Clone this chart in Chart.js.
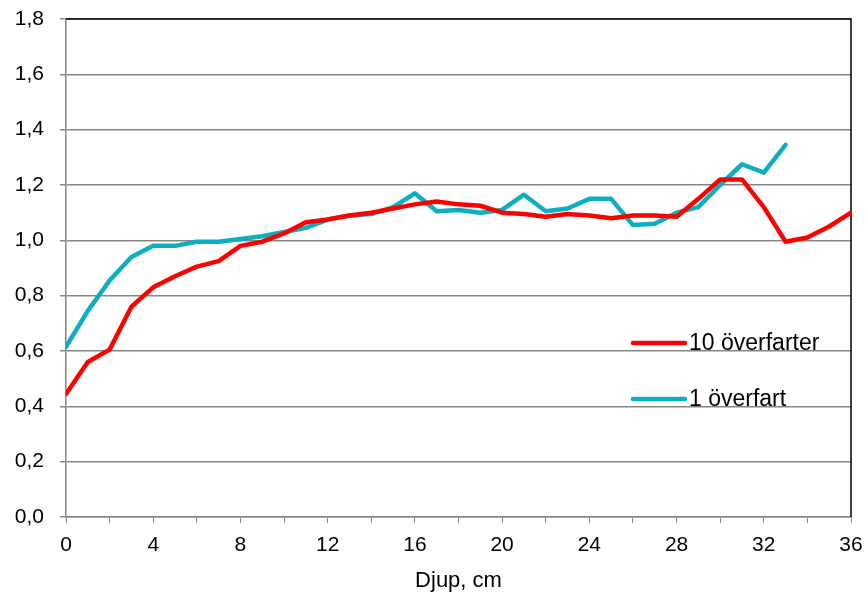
<!DOCTYPE html>
<html>
<head>
<meta charset="utf-8">
<script src="https://cdn.jsdelivr.net/npm/chart.js@4"></script>
<style>
  html, body { margin: 0; padding: 0; background: #fff; }
  #wrap { width: 868px; height: 601px; }
</style>
</head>
<body>
<div id="wrap"><canvas id="chart" width="868" height="601"></canvas></div>
<script>
// depth in cm
const djup = [0, 1, 2, 3, 4, 5, 6, 7, 8, 9, 10, 11, 12, 13, 14, 15, 16, 17, 18,
  19, 20, 21, 22, 23, 24, 25, 26, 27, 28, 29, 30, 31, 32, 33, 34, 35, 36];

const tioOverfarter = [0.445, 0.56, 0.605, 0.76, 0.83, 0.87, 0.905, 0.925, 0.98, 0.995,
  1.025, 1.065, 1.075, 1.09, 1.10, 1.115, 1.13, 1.14, 1.13, 1.125, 1.10, 1.095, 1.085,
  1.095, 1.09, 1.08, 1.09, 1.09, 1.085, 1.15, 1.22, 1.22, 1.12, 0.995, 1.01, 1.05, 1.10];

const enOverfart = [0.615, 0.745, 0.855, 0.94, 0.98, 0.98, 0.995, 0.995, 1.005, 1.015,
  1.03, 1.045, 1.075, 1.09, 1.095, 1.12, 1.17, 1.105, 1.11, 1.10, 1.11, 1.165, 1.105,
  1.115, 1.15, 1.15, 1.055, 1.06, 1.10, 1.12, 1.20, 1.275, 1.245, 1.345];

const seriesNames = ['10 överfarter', '1 överfart'];
const seriesColors = ['#ff0000', '#0eadc0'];

const FONT = '"Liberation Sans", Arial, sans-serif';
const toPoints = vals => vals.map((v, i) => ({ x: djup[i], y: v }));

// legend drawn inside the plot, right of centre
const insideLegend = {
  id: 'insideLegend',
  afterDatasetsDraw(chart) {
    const ctx = chart.ctx;
    const rows = [343, 399];
    ctx.save();
    chart.data.datasets.forEach((ds, i) => {
      const y = rows[i];
      ctx.strokeStyle = ds.borderColor;
      ctx.lineWidth = 4.5;
      ctx.lineCap = 'round';
      ctx.beginPath();
      ctx.moveTo(633, y);
      ctx.lineTo(685, y);
      ctx.stroke();
      ctx.fillStyle = '#000';
      ctx.font = '23px ' + FONT;
      ctx.textBaseline = 'middle';
      ctx.fillText(ds.label, 689, y + 1);
    });
    ctx.restore();
  }
};

// black frame on top and right side
const frame = {
  id: 'frame',
  beforeDatasetsDraw(chart) {
    const { ctx, chartArea: a } = chart;
    ctx.save();
    ctx.strokeStyle = '#000';
    ctx.lineWidth = 1.5;
    ctx.beginPath();
    ctx.moveTo(a.left, a.top);
    ctx.lineTo(a.right, a.top);
    ctx.lineTo(a.right, a.bottom);
    ctx.stroke();
    ctx.restore();
  }
};

const ctx = document.getElementById('chart').getContext('2d');
new Chart(ctx, {
  type: 'line',
  data: {
    datasets: [{
      label: seriesNames[0],
      data: toPoints(tioOverfarter),
      borderColor: seriesColors[0],
      borderWidth: 4.5,
      pointRadius: 0,
      tension: 0,
      borderJoinStyle: 'round',
      borderCapStyle: 'round',
    }, {
      label: seriesNames[1],
      data: toPoints(enOverfart),
      borderColor: seriesColors[1],
      borderWidth: 4.5,
      pointRadius: 0,
      tension: 0,
      borderJoinStyle: 'round',
      borderCapStyle: 'round',
    }],
  },
  options: {
    responsive: false,
    animation: false,
    layout: { padding: { top: 19, right: 17, left: 0, bottom: 0 } },
    plugins: {
      legend: { display: false },
      tooltip: { enabled: false },
    },
    scales: {
      x: {
        type: 'linear',
        min: 0,
        max: 36,
        ticks: {
          stepSize: 2,
          autoSkip: false,
          maxRotation: 0,
          color: '#000',
          padding: 10,
          font: { family: FONT, size: 21 },
          callback: v => (v % 4 === 0 ? String(v) : ''),
        },
        grid: {
          drawOnChartArea: false,
          drawTicks: true,
          tickLength: 6,
          color: '#868686',
        },
        border: { color: '#868686', width: 1.5 },
        title: {
          display: true,
          text: 'Djup, cm',
          color: '#000',
          font: { family: FONT, size: 22 },
          padding: { top: 4, bottom: 7 },
        },
        afterFit: s => {
          s.height = 84;
          s.paddingLeft = 0;
          s.paddingRight = 0;
        },
      },
      y: {
        min: 0,
        max: 1.8,
        ticks: {
          stepSize: 0.2,
          color: '#000',
          padding: 16,
          font: { family: FONT, size: 21 },
          callback: v => v.toFixed(1).replace('.', ','),
        },
        grid: {
          color: '#868686',
          lineWidth: 1.5,
          tickLength: 6,
        },
        border: { color: '#868686', width: 1.5 },
        afterFit: s => {
          s.width = 66;
          s.paddingTop = 0;
          s.paddingBottom = 0;
        },
      },
    },
  },
  plugins: [frame, insideLegend],
});
</script>
</body>
</html>
